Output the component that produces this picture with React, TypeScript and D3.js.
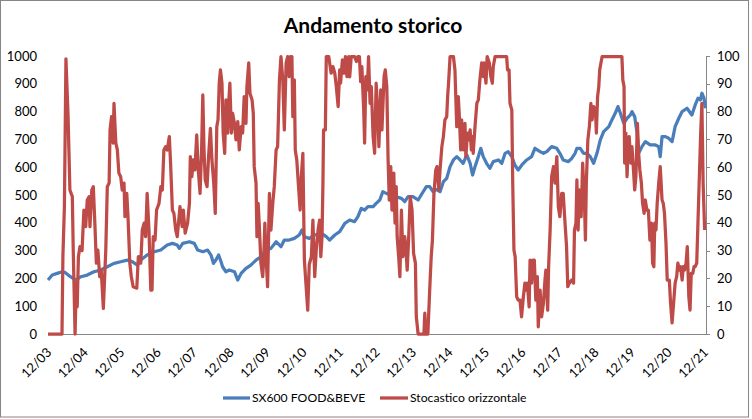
import React from "react";
import * as d3 from "d3";

const xLabels = ["12/03","12/04","12/05","12/06","12/07","12/08","12/09","12/10","12/11","12/12","12/13","12/14","12/15","12/16","12/17","12/18","12/19","12/20","12/21"];
const leftTicks = [0,100,200,300,400,500,600,700,800,900,1000];
const rightTicks = [0,10,20,30,40,50,60,70,80,90,100];
const seriesNames = ["SX600 FOOD&BEVE", "Stocastico orizzontale"];

// [months since Dec 2003, index level]
const sx600: [number, number][] = [[0,194],[1.4,212],[3.0,218],[4.7,224],[5.5,222],[7.4,206],[9.1,194],[10.8,206],[12.9,212],[15.1,224],[17.3,230],[19.5,242],[21.7,254],[23.9,260],[26.1,266],[27.7,260],[29.4,248],[30.5,266],[32.6,284],[34.9,296],[37.1,302],[39.2,320],[40.9,326],[42.5,320],[43.2,308],[44.3,326],[46.5,332],[48.1,326],[49.2,302],[50.9,296],[52.5,302],[53.6,284],[54.4,254],[55.2,266],[56.1,284],[56.9,260],[57.4,242],[58.5,224],[59.6,230],[61.3,224],[62.4,194],[63.5,218],[65.1,236],[66.7,248],[68.4,266],[70.0,278],[71.7,302],[73.3,308],[75.0,332],[76.6,314],[77.7,338],[79.3,338],[81.0,344],[82.6,356],[83.5,374],[84.3,350],[85.9,344],[87.7,356],[89.9,362],[91.5,350],[92.6,338],[94.3,356],[95.9,368],[97.6,398],[99.2,410],[100.8,404],[101.9,422],[103.0,452],[104.1,446],[105.2,458],[106.9,458],[107.9,470],[109.1,482],[110.1,512],[111.2,506],[112.9,500],[114.5,494],[116.2,488],[117.3,476],[118.4,494],[120.0,494],[121.7,482],[122.7,500],[124.4,530],[125.5,530],[126.6,512],[127.7,520],[128.9,512],[130.0,548],[131.1,560],[132.2,602],[133.3,626],[134.4,638],[135.5,626],[136.5,614],[137.7,644],[138.8,614],[139.6,572],[140.4,602],[141.5,638],[142.3,668],[143.1,638],[144.2,614],[145.3,596],[146.4,620],[148.1,626],[149.2,614],[150.3,650],[151.3,656],[152.5,638],[153.5,608],[154.6,590],[155.8,608],[157.4,626],[159.0,638],[160.1,668],[161.8,656],[162.9,650],[164.0,656],[165.6,674],[167.3,668],[168.3,650],[169.4,626],[171.1,620],[172.2,632],[173.3,650],[173.9,668],[175.0,668],[176.1,650],[177.2,650],[178.3,638],[179.4,614],[180.5,650],[181.6,698],[182.7,728],[184.4,746],[185.4,770],[186.5,794],[187.4,818],[188.2,794],[189.3,758],[190.4,776],[191.5,788],[192.0,800],[192.9,782],[193.7,722],[194.2,650],[195.3,674],[196.4,692],[198.0,680],[199.7,680],[200.8,674],[201.3,638],[201.9,710],[203.0,710],[204.1,704],[205.2,692],[206.2,746],[207.4,776],[208.5,800],[210.1,812],[211.7,788],[212.8,824],[213.7,848],[214.5,842],[215.0,866],[215.7,848],[216.1,812]];

// [months since Dec 2003, stochastic 0-100]
const stocastico: [number, number][] = [[0,0],[4.6,0],[4.9,28],[5.4,46],[5.9,99],[6.6,78.2],[7.2,51.8],[8.0,49.4],[8.3,30.2],[8.9,0],[9.3,18.3],[9.6,9.8],[10.0,27.8],[10.5,31.4],[11.2,30],[11.8,44.6],[12.4,38.6],[12.9,48.2],[13.5,49.4],[13.8,38.6],[14.4,51.8],[14.9,53],[15.4,39.9],[15.9,25.5],[16.4,30.2],[17.0,20.6],[17.5,23],[18.2,9.2],[19.0,30.2],[19.5,53],[20.1,54.3],[20.4,73.4],[20.9,78.2],[21.4,68.7],[21.7,83],[22.3,68.7],[22.8,66.2],[23.3,57.9],[23.9,56.6],[24.4,51.8],[25.0,54.3],[25.3,42.2],[25.9,50.6],[26.3,42.2],[26.9,25.5],[27.4,20.6],[28.0,17],[29.2,16.5],[29.7,27.8],[30.5,25.5],[31.0,37.4],[31.6,39.9],[32.1,35],[32.6,50.6],[33.2,37.4],[33.8,15.8],[34.2,15.8],[34.6,35],[35.2,33.8],[35.7,44.6],[36.5,47],[37.1,53],[37.6,51.8],[38.1,66.2],[38.7,67.4],[39.2,66.2],[39.9,71],[40.3,61.5],[40.9,44.6],[41.4,43.4],[42.0,37.4],[42.5,35],[43.4,45.8],[44.1,38.6],[44.5,44.6],[45.1,36.3],[45.9,39.9],[46.5,47],[46.8,63.8],[47.3,56.6],[47.8,62.6],[48.3,59],[48.9,71.6],[49.4,59],[50.0,50.6],[50.5,66.2],[50.9,86],[51.3,66.2],[51.7,55.4],[52.3,53],[52.8,63.8],[53.4,74],[53.9,62.6],[54.5,54.3],[55.0,43.4],[55.5,74.6],[55.9,77],[56.3,90.2],[56.7,95],[57.2,90.2],[57.6,72.3],[58.1,65],[58.5,84.2],[59.1,72.3],[59.4,83],[59.8,90.2],[60.3,72.3],[60.7,79.4],[61.3,75.8],[61.8,69.8],[62.4,76.4],[62.9,66.2],[63.5,74.6],[64.0,72.3],[64.5,85.4],[65.1,75.8],[65.4,89],[66.0,97.5],[66.4,86.6],[67.1,84.2],[67.5,79.4],[67.8,60.2],[68.4,54.3],[68.7,35],[69.1,47],[69.5,38.6],[70.0,25.5],[70.6,20.6],[70.9,26.6],[71.3,39.9],[71.7,27.8],[72.2,17],[72.8,50.6],[73.3,37.4],[73.9,47],[74.4,53],[75.0,66.2],[75.5,67.4],[76.1,91.4],[76.6,99.8],[77.2,91.4],[77.7,73.4],[78.3,97.5],[78.8,99.8],[79.3,92.6],[79.7,99.8],[80.2,99.8],[80.5,78.2],[81.0,91.4],[81.3,66.2],[81.8,62.6],[82.3,54.3],[82.9,44.6],[83.3,56.6],[83.8,65],[84.3,26.6],[84.8,18.3],[85.4,8.6],[85.9,25],[86.6,27.8],[87.1,41],[87.7,20.6],[88.2,30.2],[88.8,37.4],[89.3,41],[89.7,27.8],[90.1,35],[90.4,54.3],[90.6,73.4],[91.2,73.4],[91.5,99.8],[92.3,99.8],[93.1,93.8],[93.7,96.2],[94.3,93.8],[94.8,89],[95.4,81.8],[95.9,95],[96.2,90.2],[96.8,98.6],[97.3,93.8],[97.8,99.8],[98.3,92.6],[98.9,99.8],[99.2,92.5],[99.7,99.8],[100.8,99.8],[101.4,98],[101.9,99.8],[102.4,99.8],[102.8,90.8],[103.2,96.2],[103.8,80.6],[104.1,68.7],[104.5,92.6],[105.0,87.8],[105.4,99.8],[105.9,83],[106.3,89],[106.9,71],[107.4,65],[107.9,90.2],[108.5,78.2],[108.8,67.4],[109.4,87.8],[109.8,73.4],[110.5,92.6],[110.9,95],[111.4,89],[111.8,63.8],[112.2,48.2],[112.7,60.2],[113.1,44.6],[113.7,57.9],[114.1,39.9],[114.5,53],[114.8,35],[115.3,27.8],[115.7,20.6],[116.2,44.6],[116.7,27.8],[117.3,35],[117.7,30.2],[118.1,23],[118.6,35],[119.1,49.4],[119.7,44.6],[120.2,29],[120.8,25.5],[121.1,6.2],[121.7,0],[123.6,0],[123.9,7.5],[124.2,0],[124.9,0],[125.5,15.8],[126.0,27.8],[126.4,33.8],[126.9,50.6],[127.5,59],[127.9,60.2],[128.5,51.8],[128.9,59],[129.5,67.4],[130.0,71],[130.5,77],[131.1,78.2],[131.4,85.4],[131.7,90.2],[132.2,99.8],[133.3,99.8],[133.8,95],[134.4,74.6],[134.9,85.4],[135.2,79.4],[135.7,66.2],[136.0,77],[136.6,66.2],[137.1,75.8],[137.4,63.8],[137.9,72.3],[138.4,69.8],[138.8,73.4],[139.2,66.2],[139.6,71],[139.8,65],[140.4,74.6],[141.0,83],[141.5,84.2],[142.0,91.4],[142.6,97.5],[143.1,92.6],[143.4,97.5],[144.0,90.2],[144.4,99.8],[145.1,97.5],[145.6,92.6],[146.1,90.2],[146.4,96.2],[147.0,99.8],[150.8,99.8],[151.1,95],[151.6,95],[151.9,83],[152.5,80.6],[152.8,54.3],[153.2,30.2],[153.6,27.8],[154.1,13.4],[154.6,12.2],[155.2,12.2],[155.7,6.2],[156.3,13.4],[156.8,18.3],[157.2,15.8],[157.6,18.3],[158.2,9.8],[158.5,26.6],[159.0,18.3],[159.4,26.6],[159.9,26.6],[160.4,12.2],[160.9,20.6],[161.2,2.6],[161.8,15.8],[162.3,6.2],[162.9,11.1],[163.4,19.4],[163.7,23],[164.3,8.6],[164.6,24.2],[165.1,37.4],[165.6,56.6],[166.2,60.2],[166.7,54.3],[167.3,63.8],[167.8,45.8],[168.3,42.2],[168.9,50.6],[169.4,50.6],[170.0,39.9],[170.5,31.4],[170.9,17],[171.4,18.3],[172.2,19.4],[172.8,18.3],[173.1,37.4],[173.6,39.9],[173.9,55.4],[174.3,37.4],[174.7,51.8],[175.3,42.2],[175.8,61.5],[176.4,47],[176.7,33.8],[177.0,54.3],[177.5,69.8],[178.0,74.6],[178.5,83],[178.9,77],[179.4,81.8],[180.0,80.6],[180.3,72.3],[180.7,85.4],[181.1,89],[181.4,95],[181.8,97.5],[182.2,99.8],[188.7,99.8],[189.0,91.4],[189.4,89],[189.6,61.5],[190.0,72.3],[190.4,56.6],[190.7,66.2],[191.1,71],[191.6,61.5],[192.0,67.4],[192.5,59],[192.9,51.8],[193.3,56.6],[193.8,75.8],[194.2,65],[194.6,59],[195.1,54.3],[195.5,47],[196.0,43.4],[196.4,48.2],[196.9,44.6],[197.4,44.6],[197.9,33.8],[198.4,39.9],[198.8,25.5],[199.2,24.2],[199.5,39.9],[199.9,37.4],[200.3,47],[200.8,54.3],[201.3,60.2],[201.9,48.2],[202.3,47],[202.7,43.4],[203.2,32.7],[203.6,19.4],[204.3,19.4],[204.7,11.1],[205.2,4],[205.7,11.1],[206.2,18.3],[206.7,20.6],[207.1,25.5],[207.6,23],[208.0,24.2],[208.5,19.4],[208.9,24.2],[209.3,23],[209.8,25.5],[210.2,31.4],[210.7,13.4],[211.1,8.6],[211.5,21.8],[212.0,21.8],[212.4,24.2],[212.8,24.2],[213.3,25.5],[213.7,39.9],[214.2,57.9],[214.6,72.3],[215.0,83],[215.4,54.3],[215.9,37.4]];

const W = 752, H = 419;
const FONT = "Lato, 'Open Sans', sans-serif";
const BLUE = "#4A7EBB";
const RED = "#BE4B48";
const AXIS = "#868686";

export default function App() {
  const x = d3.scaleLinear().domain([0, 216.35]).range([48, 706]);
  const yL = d3.scaleLinear().domain([0, 1000]).range([334, 56]);
  const yR = d3.scaleLinear().domain([0, 100]).range([334, 56]);
  const lineL = d3.line<[number, number]>().x(d => x(d[0])).y(d => yL(d[1]));
  const lineR = d3.line<[number, number]>().x(d => x(d[0])).y(d => yR(d[1]));

  return (
    <svg width={W} height={H} style={{ position: "absolute", left: 0, top: 0, background: "#fff" }} fontFamily={FONT}>
      <rect x={0.5} y={0.5} width={748} height={416.5} fill="#fff" stroke={AXIS} strokeWidth={1} />
      <text x={373} y={33} textAnchor="middle" fontSize={21} fontWeight="bold" fill="#000">Andamento storico</text>

      {leftTicks.map(t => (
        <text key={"l" + t} x={37} y={yL(t)} dy="0.35em" textAnchor="end" fontSize={13} fill="#000">{t}</text>
      ))}
      {rightTicks.map(t => (
        <g key={"r" + t}>
          <line x1={706} x2={710} y1={Math.round(yR(t)) + 0.5} y2={Math.round(yR(t)) + 0.5} stroke={AXIS} />
          <text x={717} y={yR(t)} dy="0.35em" textAnchor="start" fontSize={13} fill="#000">{t}</text>
        </g>
      ))}
      <line x1={706.5} x2={706.5} y1={56} y2={334} stroke={AXIS} />
      <line x1={48} x2={706.5} y1={334.5} y2={334.5} stroke={AXIS} />

      {xLabels.map((lab, i) => {
        const px = x(i * 12);
        return (
          <text key={lab} transform={`translate(${px + 1},${350}) rotate(-45)`} dy="0.35em" textAnchor="end" fontSize={13} fill="#000">{lab}</text>
        );
      })}

      <path d={lineL(sx600) || ""} fill="none" stroke={BLUE} strokeWidth={3.25} strokeLinejoin="round" />
      <path d={lineR(stocastico) || ""} fill="none" stroke={RED} strokeWidth={3.25} strokeLinejoin="round" />

      <line x1={223} x2={250} y1={398} y2={398} stroke={BLUE} strokeWidth={3.25} />
      <text x={252} y={398} dy="0.35em" fontSize={12.2} fill="#000">{seriesNames[0]}</text>
      <line x1={380} x2={408} y1={398} y2={398} stroke={RED} strokeWidth={3.25} />
      <text x={410} y={398} dy="0.35em" fontSize={12.2} fill="#000">{seriesNames[1]}</text>
    </svg>
  );
}
